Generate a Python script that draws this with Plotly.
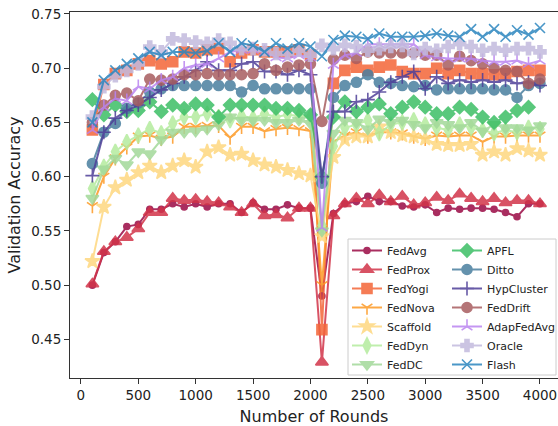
import plotly.graph_objects as go

rounds = list(range(100, 4001, 100))

fedavg = [0.500, 0.530, 0.540, 0.554, 0.556, 0.570, 0.570, 0.575, 0.572, 0.575,
          0.572, 0.575, 0.575, 0.567, 0.576, 0.570, 0.570, 0.574, 0.571, 0.571,
          0.490, 0.566, 0.575, 0.577, 0.582, 0.577, 0.577, 0.573, 0.572, 0.574,
          0.567, 0.571, 0.570, 0.571, 0.571, 0.570, 0.567, 0.563, 0.575, 0.575]
fedprox = [0.501, 0.531, 0.540, 0.544, 0.552, 0.567, 0.567, 0.580, 0.578, 0.579,
           0.577, 0.576, 0.572, 0.567, 0.575, 0.564, 0.565, 0.562, 0.571, 0.571,
           0.429, 0.564, 0.575, 0.580, 0.575, 0.583, 0.577, 0.582, 0.574, 0.576,
           0.581, 0.578, 0.584, 0.580, 0.577, 0.580, 0.576, 0.578, 0.578, 0.575]
fedyogi = [0.643, 0.685, 0.695, 0.698, 0.704, 0.707, 0.704, 0.706, 0.715, 0.714,
           0.717, 0.718, 0.706, 0.714, 0.717, 0.715, 0.715, 0.715, 0.717, 0.712,
           0.459, 0.686, 0.698, 0.701, 0.698, 0.701, 0.703, 0.697, 0.695, 0.695,
           0.700, 0.695, 0.698, 0.695, 0.695, 0.694, 0.695, 0.697, 0.698, 0.698]
fednova = [0.573, 0.600, 0.617, 0.627, 0.637, 0.638, 0.635, 0.637, 0.646, 0.646,
           0.647, 0.647, 0.636, 0.646, 0.646, 0.642, 0.644, 0.645, 0.644, 0.642,
           0.500, 0.632, 0.638, 0.641, 0.637, 0.641, 0.641, 0.640, 0.637, 0.635,
           0.638, 0.637, 0.638, 0.638, 0.632, 0.637, 0.637, 0.638, 0.638, 0.638]
scaffold = [0.522, 0.572, 0.590, 0.597, 0.604, 0.610, 0.604, 0.610, 0.615, 0.609,
            0.623, 0.627, 0.620, 0.621, 0.615, 0.611, 0.609, 0.606, 0.603, 0.601,
            0.545, 0.618, 0.634, 0.637, 0.637, 0.646, 0.641, 0.638, 0.637, 0.635,
            0.630, 0.629, 0.629, 0.630, 0.620, 0.623, 0.620, 0.626, 0.624, 0.620]
feddyn = [0.589, 0.609, 0.623, 0.632, 0.638, 0.644, 0.640, 0.649, 0.655, 0.655,
          0.658, 0.655, 0.652, 0.656, 0.654, 0.658, 0.655, 0.657, 0.656, 0.655,
          0.555, 0.628, 0.645, 0.648, 0.652, 0.640, 0.648, 0.650, 0.652, 0.648,
          0.645, 0.643, 0.648, 0.645, 0.643, 0.640, 0.643, 0.641, 0.645, 0.644]
feddc = [0.580, 0.607, 0.617, 0.611, 0.623, 0.621, 0.634, 0.641, 0.641, 0.642,
         0.644, 0.648, 0.655, 0.652, 0.652, 0.652, 0.650, 0.650, 0.652, 0.649,
         0.550, 0.640, 0.652, 0.650, 0.644, 0.653, 0.650, 0.652, 0.648, 0.645,
         0.650, 0.648, 0.645, 0.650, 0.642, 0.648, 0.645, 0.645, 0.643, 0.647]
apfl = [0.671, 0.657, 0.666, 0.660, 0.661, 0.669, 0.660, 0.666, 0.663, 0.667,
        0.666, 0.655, 0.666, 0.666, 0.666, 0.666, 0.663, 0.663, 0.661, 0.657,
        0.600, 0.655, 0.669, 0.660, 0.664, 0.667, 0.658, 0.664, 0.669, 0.664,
        0.658, 0.658, 0.664, 0.662, 0.655, 0.650, 0.655, 0.661, 0.664, None]
ditto = [0.612, 0.641, 0.649, 0.663, 0.668, 0.678, 0.681, 0.684, 0.684, 0.684,
         0.684, 0.684, 0.684, 0.678, 0.684, 0.681, 0.681, 0.681, 0.681, 0.681,
         0.594, 0.673, 0.684, 0.687, 0.694, 0.687, 0.686, 0.684, 0.683, 0.684,
         0.680, 0.681, 0.681, 0.681, 0.681, 0.680, 0.680, 0.673, 0.684, 0.686]
hypcluster = [0.601, 0.641, 0.654, 0.661, 0.666, 0.673, 0.680, 0.686, 0.692, 0.698,
              0.706, 0.698, 0.698, 0.704, 0.706, 0.697, 0.697, 0.694, 0.698, 0.694,
              0.600, 0.660, 0.660, 0.669, 0.671, 0.678, 0.687, 0.692, 0.697, 0.681,
              0.692, 0.686, 0.689, 0.687, 0.689, 0.687, 0.689, 0.686, 0.687, 0.684]
feddrift = [0.650, 0.666, 0.675, 0.677, 0.670, 0.690, 0.689, 0.690, 0.694, 0.694,
            0.695, 0.694, 0.694, 0.694, 0.695, 0.704, 0.698, 0.701, 0.703, 0.704,
            0.651, 0.708, 0.712, 0.709, 0.715, 0.714, 0.714, 0.714, 0.714, 0.712,
            0.712, 0.703, 0.711, 0.707, 0.704, 0.700, 0.698, 0.697, 0.686, 0.690]
adapfedavg = [0.643, 0.664, 0.672, 0.670, 0.683, 0.681, 0.689, 0.692, 0.700, 0.703,
              0.704, 0.709, 0.715, 0.717, 0.717, 0.715, 0.710, 0.709, 0.712, 0.710,
              0.553, 0.703, 0.712, 0.714, 0.722, 0.722, 0.722, 0.722, 0.722, 0.712,
              0.710, 0.709, 0.709, 0.709, 0.707, 0.706, 0.706, 0.707, 0.704, 0.707]
oracle = [0.655, 0.683, 0.693, 0.698, 0.704, 0.7195, 0.715, 0.727, 0.726, 0.724,
          0.723, 0.726, 0.723, 0.718, 0.718, 0.717, 0.7135, 0.7135, 0.7165, 0.712,
          0.721, 0.718, 0.721, 0.720, 0.7165, 0.718, 0.720, 0.721, 0.7135, 0.718,
          0.7165, 0.720, 0.7225, 0.720, 0.7165, 0.718, 0.7165, 0.718, 0.718, 0.715]
flash = [0.650, 0.689, 0.698, 0.704, 0.709, 0.715, 0.712, 0.715, 0.715, 0.714,
         0.716, 0.723, 0.715, 0.723, 0.721, 0.715, 0.723, 0.718, 0.723, 0.720,
         0.711, 0.726, 0.730, 0.729, 0.727, 0.732, 0.729, 0.729, 0.729, 0.730,
         0.732, 0.730, 0.729, 0.736, 0.729, 0.736, 0.729, 0.735, 0.731, 0.737]

names = ["FedAvg", "FedProx", "FedYogi", "FedNova", "Scaffold", "FedDyn", "FedDC",
         "APFL", "Ditto", "HypCluster", "FedDrift", "AdapFedAvg", "Oracle", "Flash"]
series = [fedavg, fedprox, fedyogi, fednova, scaffold, feddyn, feddc,
          apfl, ditto, hypcluster, feddrift, adapfedavg, oracle, flash]
colors = ["#9b0a45", "#d23449", "#f46638", "#fd9a25", "#fed880", "#b5ec9e", "#a3d99a",
          "#3dbf66", "#4a7f9f", "#4e3f98", "#a85d60", "#ba84f0", "#c3bade", "#2b86bf"]
symbols = ["circle", "triangle-up", "square", "y-down-open", "star", "diamond-tall",
           "triangle-down", "diamond", "circle", "cross-thin-open", "circle",
           "y-up-open", "cross", "x-thin-open"]
sizes = [6, 11, 10, 9, 11, 11, 11, 10, 10, 10, 10, 9, 10, 10]

fig = go.Figure()
for i, (n, s) in enumerate(zip(names, series)):
    c = colors[i]
    fig.add_trace(go.Scatter(
        x=rounds, y=s, name=n, mode="lines+markers",
        line=dict(color=c, width=2),
        marker=dict(symbol=symbols[i], size=sizes[i], color=c,
                    line=dict(color=c, width=1.6)),
        opacity=0.85,
        legend="legend" if i < 7 else "legend2",
    ))

W, H = 558, 426
L, R, T, B = 70, 0, 12, 48
pw, ph = W - L - R, H - T - B

def px(xp):
    return (xp - L) / pw

def py(yp):
    return 1 - (yp - T) / ph

leg_common = dict(bgcolor="rgba(0,0,0,0)", borderwidth=0, yanchor="top", xanchor="left",
                  font=dict(family="DejaVu Sans", size=11, color="#222"),
                  tracegroupgap=0, itemwidth=30, itemclick=False)

fig.update_layout(
    width=W, height=H,
    margin=dict(l=L, r=R, t=T, b=B, autoexpand=False),
    paper_bgcolor="white", plot_bgcolor="white",
    font=dict(family="DejaVu Sans", color="#222"),
    showlegend=True,
    legend=dict(x=px(347), y=py(236), **leg_common),
    legend2=dict(x=px(447), y=py(236), **leg_common),
    xaxis=dict(range=[-95, 4157], tickvals=list(range(0, 4001, 500)),
               ticks="outside", ticklen=5, tickwidth=1, tickcolor="#333",
               showline=True, linecolor="#333", linewidth=1, mirror=True,
               showgrid=False, zeroline=False, automargin=False,
               tickfont=dict(size=13.5, color="#222"),
               title=dict(text="Number of Rounds", font=dict(size=16), standoff=10)),
    yaxis=dict(range=[0.4144, 0.7518], tickvals=[0.45, 0.50, 0.55, 0.60, 0.65, 0.70, 0.75],
               tickformat=".2f",
               ticks="outside", ticklen=5, tickwidth=1, tickcolor="#333",
               showline=True, linecolor="#333", linewidth=1, mirror=False,
               showgrid=False, zeroline=False, automargin=False,
               tickfont=dict(size=13.5, color="#222"),
               title=dict(text="Validation Accuracy", font=dict(size=16), standoff=6)),
    shapes=[dict(type="rect", xref="paper", yref="paper", layer="above",
                 x0=px(348), x1=px(556), y0=py(375), y1=py(239),
                 fillcolor="rgba(255,255,255,0.8)", line=dict(color="#cccccc", width=1))],
)

fig.write_html("out.html", config={"displayModeBar": False},
               post_script="document.body.style.margin='0px';document.body.style.overflow='hidden';")
